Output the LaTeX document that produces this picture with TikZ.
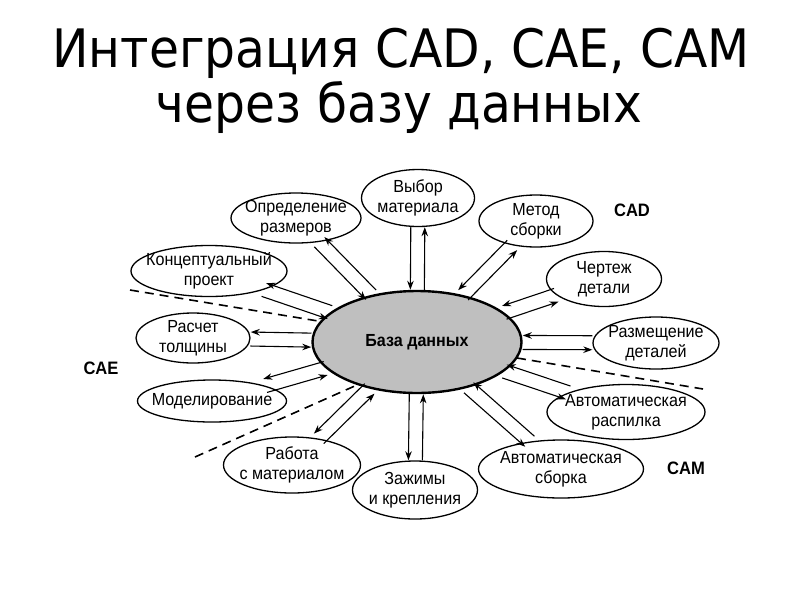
\documentclass[tikz,border=0pt]{standalone}
\usepackage{fontspec}
\setmainfont[FakeStretch=0.92]{Liberation Sans}
\newfontfamily\titlefont[FakeStretch=0.92]{DejaVu Sans}
\usetikzlibrary{shapes.geometric,arrows.meta,calc}
\newcommand\twoway[1]{%
  \draw[arr, transform canvas={shift={($(#1)!7pt!-90:(db)-(#1)$)}}] (#1) -- (db);
  \draw[arr, transform canvas={shift={($(#1)!7pt!90:(db)-(#1)$)}}] (db) -- (#1);
}
\begin{document}
\begin{tikzpicture}[x=1pt,y=-1pt,
  sat/.style={ellipse, draw, line width=1.3pt, fill=white, inner sep=0pt},
  sattext/.style={align=center, inner sep=0pt, font=\fontsize{17.5}{20}\selectfont},
  arr/.style={-{Stealth[length=9pt,width=6.5pt]}, line width=1.1pt},
  zone/.style={line width=1.6pt, dash pattern=on 9pt off 6pt},
  lbl/.style={font=\bfseries\fontsize{18}{20}\selectfont},
  ttl/.style={font=\titlefont\fontsize{53}{60}\selectfont, anchor=base}]
\fill[white] (0,0) rectangle (800,600);
\useasboundingbox (0,0) rectangle (800,600);

\node[ttl] (t1) at (401,67) {Интеграция CAD, CAE, CAM};
\node[ttl] (t2) at (399,122) {через базу данных};

\node[ellipse, draw, line width=2.4pt, fill=gray!50, minimum width=209pt, minimum height=102pt,
  inner sep=0pt, font=\bfseries\fontsize{17.5}{20}\selectfont] (db) at (417,342) {База данных};

\node[sat, minimum width=130pt, minimum height=50pt, label={[sattext]center:Определение\\размеров}] (opr) at (296,218) {};
\node[sat, minimum width=113pt, minimum height=57pt, label={[sattext]center:Выбор\\материала}] (vyb) at (418,198) {};
\node[sat, minimum width=114pt, minimum height=52pt, label={[sattext]center:Метод\\сборки}] (met) at (536,221) {};
\node[sat, minimum width=115pt, minimum height=55pt, label={[sattext]center:Чертеж\\детали}] (cher) at (604,279) {};
\node[sat, minimum width=126pt, minimum height=52pt, label={[sattext]center:Размещение\\деталей}] (razm) at (656,343) {};
\node[sat, minimum width=158pt, minimum height=55pt, label={[sattext]center:Автоматическая\\распилка}] (rasp) at (626,412) {};
\node[sat, minimum width=165pt, minimum height=58pt, label={[sattext]center:Автоматическая\\сборка}] (sbor) at (561,469) {};
\node[sat, minimum width=125pt, minimum height=58pt, label={[sattext]center:Зажимы\\и крепления}] (zazh) at (415,490) {};
\node[sat, minimum width=137pt, minimum height=56pt, label={[sattext]center:Работа\\с материалом}] (rab) at (292,465) {};
\node[sat, minimum width=149pt, minimum height=42pt, label={[sattext]center:Моделирование}] (mod) at (212,401) {};
\node[sat, minimum width=114pt, minimum height=50pt, label={[sattext]center:Расчет\\толщины}] (rasch) at (193,338) {};
\node[sat, minimum width=156pt, minimum height=51pt, label={[sattext]center:Концептуальный\\проект}] (konc) at (209,271) {};

\foreach \s in {opr,vyb,met,cher,razm,rasp,sbor,zazh,rab,mod,rasch,konc}{\twoway{\s}}

\coordinate (d1a) at (130,290); \coordinate (d1b) at (318,321);
\coordinate (d2a) at (195,457); \coordinate (d2b) at (357,385);
\coordinate (d3a) at (517,358); \coordinate (d3b) at (703,389);
\draw[zone] (d1a) -- (d1b);
\draw[zone] (d2a) -- (d2b);
\draw[zone] (d3a) -- (d3b);

\node[lbl] (cad) at (632,210) {CAD};
\node[lbl] (cae) at (101,368) {CAE};
\node[lbl] (cam) at (686,468) {CAM};
\end{tikzpicture}
\end{document}
